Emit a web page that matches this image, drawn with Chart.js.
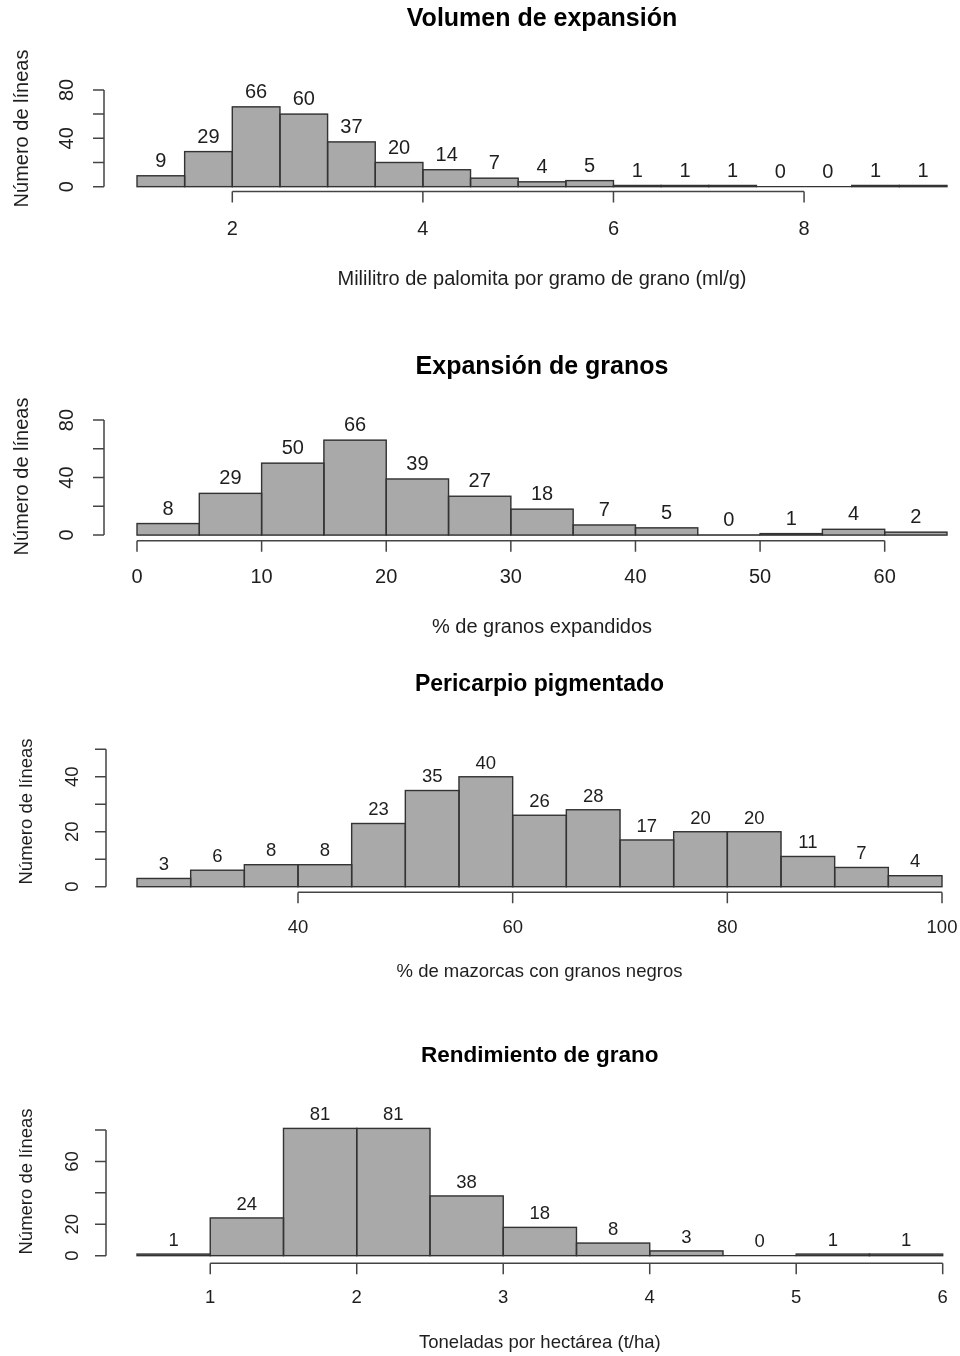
<!DOCTYPE html>
<html>
<head>
<meta charset="utf-8">
<script src="https://cdn.jsdelivr.net/npm/chart.js@4"></script>
<style>
  body { margin: 0; background: #fff; }
  #page { position: relative; width: 960px; height: 1356px; }
  #page canvas { position: absolute; left: 0; }
</style>
</head>
<body>
<div id="page"></div>
<script>
// Volumen de expansión (ml/g), bins of 0.5
const volumenMids = [1.25, 1.75, 2.25, 2.75, 3.25, 3.75, 4.25, 4.75, 5.25, 5.75, 6.25, 6.75, 7.25, 7.75, 8.25, 8.75, 9.25];
const volumenCounts = [9, 29, 66, 60, 37, 20, 14, 7, 4, 5, 1, 1, 1, 0, 0, 1, 1];
const volumenTicks = [2, 4, 6, 8];

// Expansión de granos (%), bins of 5
const expansionMids = [2.5, 7.5, 12.5, 17.5, 22.5, 27.5, 32.5, 37.5, 42.5, 47.5, 52.5, 57.5, 62.5];
const expansionCounts = [8, 29, 50, 66, 39, 27, 18, 7, 5, 0, 1, 4, 2];
const expansionTicks = [0, 10, 20, 30, 40, 50, 60];

// Pericarpio pigmentado (%), bins of 5
const pericarpioMids = [27.5, 32.5, 37.5, 42.5, 47.5, 52.5, 57.5, 62.5, 67.5, 72.5, 77.5, 82.5, 87.5, 92.5, 97.5];
const pericarpioCounts = [3, 6, 8, 8, 23, 35, 40, 26, 28, 17, 20, 20, 11, 7, 4];
const pericarpioTicks = [40, 60, 80, 100];

// Rendimiento de grano (t/ha), bins of 0.5
const rendimientoMids = [0.75, 1.25, 1.75, 2.25, 2.75, 3.25, 3.75, 4.25, 4.75, 5.25, 5.75];
const rendimientoCounts = [1, 24, 81, 81, 38, 18, 8, 3, 0, 1, 1];
const rendimientoTicks = [1, 2, 3, 4, 5, 6];

// y ticks; R drops labels that would overlap, so some stay blank
const yTicks80 = [0, 20, 40, 60, 80];
const yTicks50 = [0, 10, 20, 30, 40, 50];
const volumenYLabels = ['0', '', '40', '', '80'];
const expansionYLabels = ['0', '', '40', '', '80'];
const pericarpioYLabels = ['0', '', '20', '', '40', ''];
const rendimientoYLabels = ['0', '20', '', '60', ''];

const FONT = '"Liberation Sans", Arial, sans-serif';
const yTitle = 'Número de líneas';

// page layout of each histogram (page pixels)
const panels = [
  {
    title: 'Volumen de expansión', xTitle: 'Mililitro de palomita por gramo de grano (ml/g)',
    mids: volumenMids, counts: volumenCounts, xTicks: volumenTicks,
    yTicks: yTicks80, yLabels: volumenYLabels,
    xRange: [1, 9.5], yRange: [-4, 84],
    top: 0, height: 330, area: { left: 137, right: 947, top: 85.1, bottom: 191.5 },
    font: 20, titleFont: 25, titleY: 19, xLabelY: 229, xTitleY: 279,
    yTitleX: 22, yTitleY: 128.5, yLabelX: 67, axisGap: 33
  },
  {
    title: 'Expansión de granos', xTitle: '% de granos expandidos',
    mids: expansionMids, counts: expansionCounts, xTicks: expansionTicks,
    yTicks: yTicks80, yLabels: expansionYLabels,
    xRange: [0, 65], yRange: [-4, 84],
    top: 330, height: 325, area: { left: 137, right: 947, top: 414.3, bottom: 540.8 },
    font: 20, titleFont: 25, titleY: 367, xLabelY: 577, xTitleY: 627,
    yTitleX: 22, yTitleY: 476.5, yLabelX: 67, axisGap: 33
  },
  {
    title: 'Pericarpio pigmentado', xTitle: '% de mazorcas con granos negros',
    mids: pericarpioMids, counts: pericarpioCounts, xTicks: pericarpioTicks,
    yTicks: yTicks50, yLabels: pericarpioYLabels,
    xRange: [25, 100], yRange: [-2, 52],
    top: 655, height: 345, area: { left: 137, right: 942, top: 743.8, bottom: 892.2 },
    font: 18.5, titleFont: 23, titleY: 685, xLabelY: 928, xTitleY: 972,
    yTitleX: 27, yTitleY: 811.5, yLabelX: 73, axisGap: 31
  },
  {
    title: 'Rendimiento de grano', xTitle: 'Toneladas por hectárea (t/ha)',
    mids: rendimientoMids, counts: rendimientoCounts, xTicks: rendimientoTicks,
    yTicks: yTicks80, yLabels: rendimientoYLabels,
    xRange: [0.5, 6], yRange: [-4.8, 84],
    top: 1000, height: 356, area: { left: 137, right: 942.7, top: 1123.7, bottom: 1263.2 },
    font: 18.5, titleFont: 22.5, titleY: 1056, xLabelY: 1298, xTitleY: 1343,
    yTitleX: 27, yTitleY: 1181.5, yLabelX: 73, axisGap: 31
  }
];

// base-R look: outlined bins, counts over bars, axes spanning first..last tick, titles
function rStyle(p) {
  return {
    id: 'rStyle',
    afterDatasetsDraw(chart) {
      const { ctx } = chart;
      const bars = chart.getDatasetMeta(0).data;
      ctx.save();
      // R strokes rect edges centred, so empty/short bins still show a line
      ctx.strokeStyle = '#333';
      ctx.lineWidth = 1.4;
      bars.forEach(bar => {
        const { x, y, base, width } = bar.getProps(['x', 'y', 'base', 'width'], true);
        ctx.strokeRect(x - width / 2, Math.min(y, base), width, Math.abs(base - y));
      });
      ctx.font = `${p.font}px ${FONT}`;
      ctx.fillStyle = '#1e1e1e';
      ctx.textAlign = 'center';
      ctx.textBaseline = 'middle';
      bars.forEach((bar, i) => {
        ctx.fillText(String(p.counts[i]), bar.x, bar.y - p.font * 0.72);
      });
      ctx.restore();
    },
    afterDraw(chart) {
      const { ctx, chartArea, scales: { x, y } } = chart;
      const off = p.top;
      const tick = 11;
      ctx.save();
      ctx.strokeStyle = '#444';
      ctx.lineWidth = 1.5;
      ctx.fillStyle = '#1e1e1e';
      ctx.font = `${p.font}px ${FONT}`;
      ctx.textAlign = 'center';
      ctx.textBaseline = 'middle';

      // x axis
      const xb = chartArea.bottom;
      const xs = p.xTicks.map(v => x.getPixelForValue(v));
      ctx.beginPath();
      ctx.moveTo(xs[0], xb);
      ctx.lineTo(xs[xs.length - 1], xb);
      xs.forEach(px => { ctx.moveTo(px, xb); ctx.lineTo(px, xb + tick); });
      ctx.stroke();
      xs.forEach((px, i) => ctx.fillText(String(p.xTicks[i]), px, p.xLabelY - off));

      // y axis
      const ax = chartArea.left - p.axisGap;
      const ys = p.yTicks.map(v => y.getPixelForValue(v));
      ctx.beginPath();
      ctx.moveTo(ax, ys[0]);
      ctx.lineTo(ax, ys[ys.length - 1]);
      ys.forEach(py => { ctx.moveTo(ax, py); ctx.lineTo(ax - tick, py); });
      ctx.stroke();
      ys.forEach((py, i) => {
        if (!p.yLabels[i]) return;
        ctx.save();
        ctx.translate(p.yLabelX, py);
        ctx.rotate(-Math.PI / 2);
        ctx.fillText(p.yLabels[i], 0, 0);
        ctx.restore();
      });

      // titles
      const cx = (chartArea.left + chartArea.right) / 2;
      ctx.fillText(p.xTitle, cx, p.xTitleY - off);
      ctx.save();
      ctx.translate(p.yTitleX, p.yTitleY - off);
      ctx.rotate(-Math.PI / 2);
      ctx.fillText(yTitle, 0, 0);
      ctx.restore();
      ctx.fillStyle = '#000';
      ctx.font = `bold ${p.titleFont}px ${FONT}`;
      ctx.fillText(p.title, cx, p.titleY - off);
      ctx.restore();
    }
  };
}

const page = document.getElementById('page');
panels.forEach(p => {
  const canvas = document.createElement('canvas');
  canvas.width = 960;
  canvas.height = p.height;
  canvas.style.top = p.top + 'px';
  page.appendChild(canvas);

  new Chart(canvas.getContext('2d'), {
    type: 'bar',
    data: {
      datasets: [{
        data: p.mids.map((m, i) => ({ x: m, y: p.counts[i] })),
        backgroundColor: '#a9a9a9',
        borderWidth: 0,
        barPercentage: 1,
        categoryPercentage: 1,
        grouped: false
      }]
    },
    options: {
      responsive: false,
      animation: false,
      events: [],
      layout: {
        padding: {
          left: p.area.left,
          right: 960 - p.area.right,
          top: p.area.top - p.top,
          bottom: p.top + p.height - p.area.bottom
        }
      },
      scales: {
        x: {
          type: 'linear', display: false, offset: false,
          min: p.xRange[0], max: p.xRange[1],
          afterBuildTicks: s => { s.ticks = p.mids.map(v => ({ value: v })); }
        },
        y: { display: false, min: p.yRange[0], max: p.yRange[1] }
      },
      plugins: { legend: { display: false }, tooltip: { enabled: false } }
    },
    plugins: [rStyle(p)]
  });
});
</script>
</body>
</html>
